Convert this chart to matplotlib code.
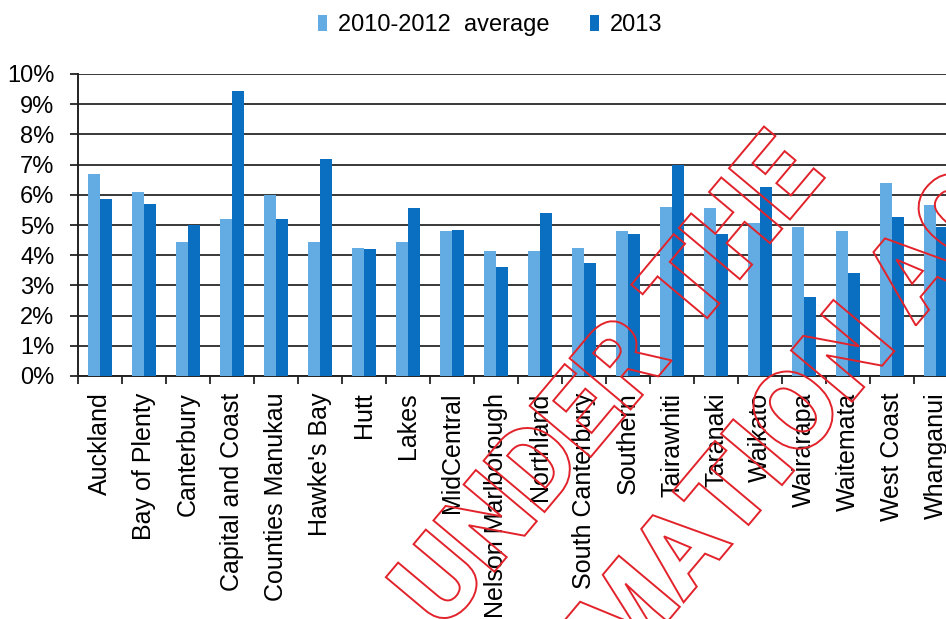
import matplotlib.pyplot as plt
import numpy as np
from matplotlib.textpath import TextPath
from matplotlib.font_manager import FontProperties
from matplotlib.patches import PathPatch
from matplotlib.transforms import Affine2D

dhbs = ['Auckland', 'Bay of Plenty', 'Canterbury', 'Capital and Coast',
        'Counties Manukau', "Hawke's Bay", 'Hutt', 'Lakes', 'MidCentral',
        'Nelson Marlborough', 'Northland', 'South Canterbury', 'Southern',
        'Tairawhiti', 'Taranaki', 'Waikato', 'Wairarapa', 'Waitemata',
        'West Coast', 'Whanganui']
avg_2010_2012 = [6.7, 6.1, 4.45, 5.2, 6.0, 4.45, 4.25, 4.45, 4.8, 4.15,
                 4.15, 4.25, 4.8, 5.6, 5.55, 5.05, 4.95, 4.8, 6.4, 5.65]
val_2013 = [5.85, 5.7, 5.0, 9.45, 5.2, 7.2, 4.2, 5.55, 4.85, 3.6,
            5.4, 3.75, 4.7, 7.0, 4.7, 6.25, 2.6, 3.4, 5.25, 4.95]
series_names = ['2010-2012  average', '2013']
yticks = list(range(0, 11))
stamp_lines = ['RELEASED UNDER THE', 'OFFICIAL INFORMATION ACT']

plt.rcParams['font.family'] = ['Liberation Sans', 'DejaVu Sans']

W, H = 946, 619
fig = plt.figure(figsize=(W / 100, H / 100), dpi=100)
# the source chart is cut off on the right, so the axes run past the figure edge
ax = fig.add_axes([78 / W, (H - 376) / H, 880 / W, (376 - 74) / H])

x = np.arange(len(dhbs))
bw = 0.27
light = '#62ACE3'
dark = '#0A6FC0'
b1 = ax.bar(x - bw / 2, avg_2010_2012, bw, color=light, zorder=3)
b2 = ax.bar(x + bw / 2, val_2013, bw, color=dark, zorder=3)

ax.set_xlim(-0.5, len(dhbs) - 0.5)
ax.set_ylim(0, 10)
ax.set_yticks(yticks)
ax.set_yticklabels([f'{v}%' for v in yticks], fontsize=17)
ax.yaxis.grid(True, color='#383838', linewidth=1.4, zorder=0)
ax.set_axisbelow(True)

ax.set_xticks(x)
ax.set_xticklabels(dhbs, rotation=90, fontsize=18)
ax.set_xticks(np.arange(-0.5, len(dhbs)), minor=True)
ax.tick_params(axis='x', which='major', length=0, pad=12)
ax.tick_params(axis='x', which='minor', length=6, width=1.3, color='#222222')
ax.tick_params(axis='y', length=6, width=1.3, color='#222222', pad=11)

for s in ['top', 'right']:
    ax.spines[s].set_visible(False)
for s in ['left', 'bottom']:
    ax.spines[s].set_color('#222222')
    ax.spines[s].set_linewidth(1.4)

fig.legend([b1, b2], series_names, loc='center', ncol=2,
           bbox_to_anchor=(490 / W, 1 - 25 / H), frameon=False, fontsize=17,
           handlelength=0.4, handleheight=0.65, handletextpad=0.45,
           columnspacing=1.7)

# red outlined release stamp drawn over the chart
fp = FontProperties(family=['Roboto', 'DejaVu Sans'], weight='black')
to_fig = Affine2D().scale(1 / W, 1 / H) + fig.transFigure


def char_centre(text, idx):
    full = TextPath((0, 0), text[:idx + 1], size=1, prop=fp).get_extents().x1
    half = TextPath((0, 0), text[idx], size=1, prop=fp).get_extents().width / 2
    return full - half


cap_h = TextPath((0, 0), 'E', size=1, prop=fp).get_extents().height
# horizontal squeeze so that U..E of "UNDER THE" spans about 530 px
span = (char_centre(stamp_lines[0], len(stamp_lines[0]) - 1)
        - char_centre(stamp_lines[0], stamp_lines[0].index('U')))
size = 112
sx = 530 / (span * size)


def stamp(text, idx, cx, cy, angle=50):
    # puts the centre of character text[idx] at pixel (cx, cy), y measured from the bottom
    tp = TextPath((0, 0), text, size=1, prop=fp)
    tr = (Affine2D().translate(-char_centre(text, idx), -cap_h / 2)
          .scale(size * sx, size).rotate_deg(angle).translate(cx, cy))
    patch = PathPatch(tr.transform_path(tp), transform=to_fig, fill=False,
                      edgecolor='#E2232B', linewidth=1.4, zorder=10)
    fig.add_artist(patch)


stamp(stamp_lines[0], len(stamp_lines[0]) - 1, 777, H - 173)
stamp(stamp_lines[1], stamp_lines[1].rindex('O'), 793, H - 410)

fig.savefig('out.png', dpi=100)
